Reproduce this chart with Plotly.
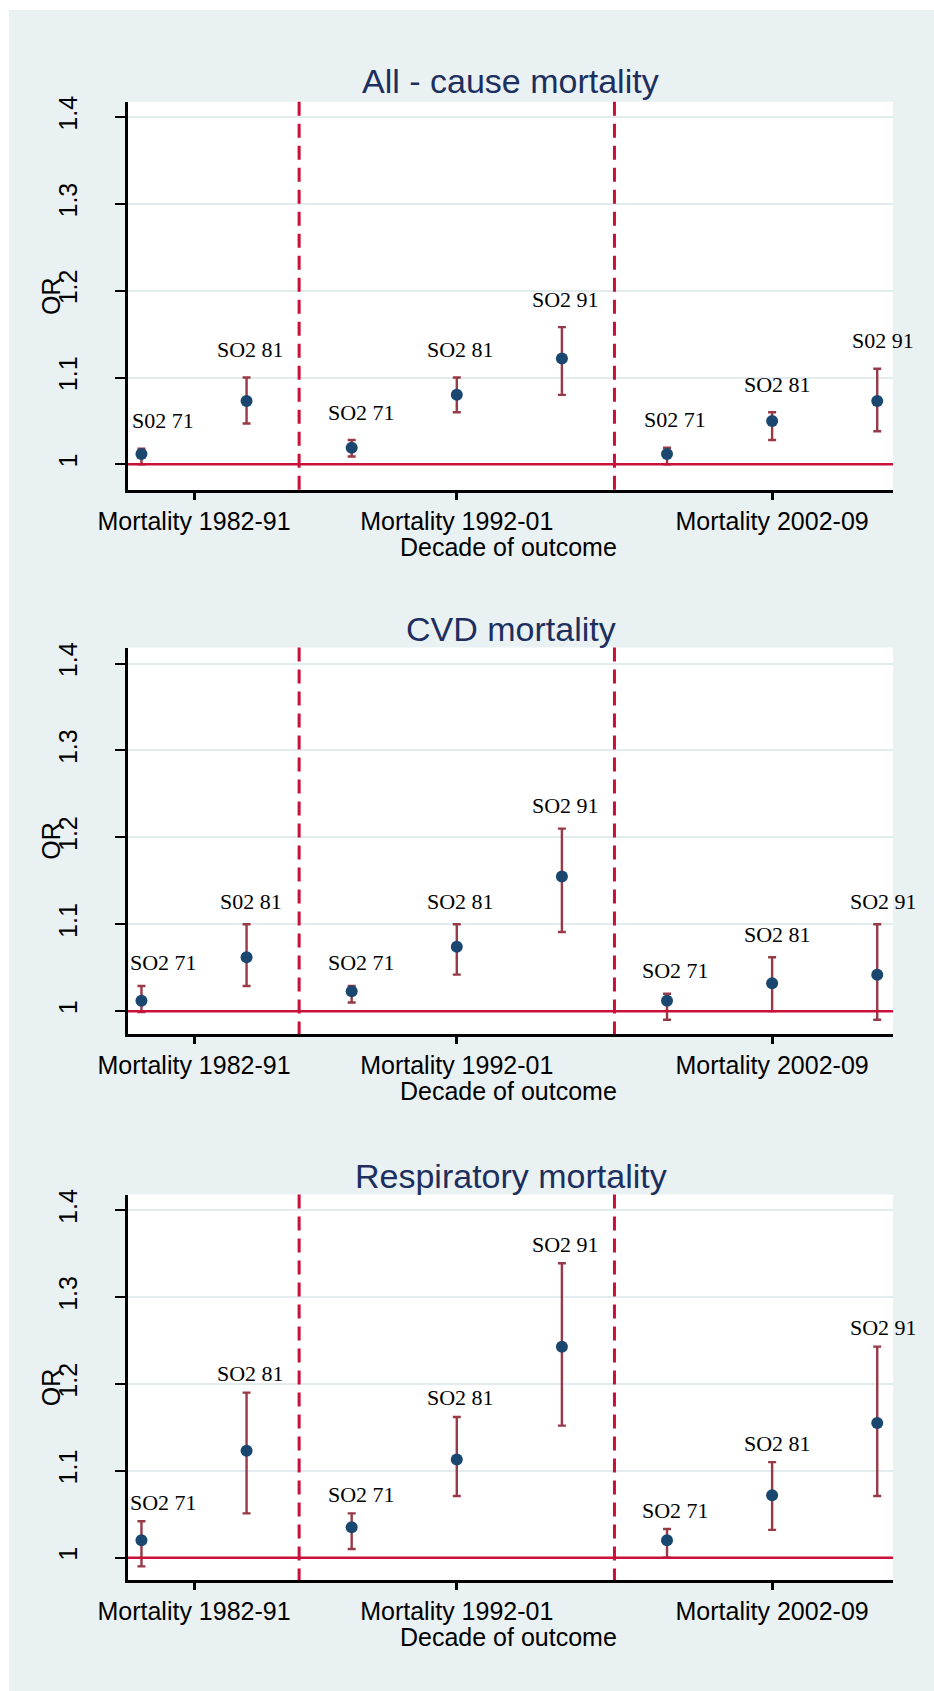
import plotly.graph_objects as go

# ---------------- data ----------------
positions = [1, 2, 3, 4, 5, 6, 7, 8]
decade_tickvals = [1.5, 4, 7]
decade_ticktext = ["Mortality 1982-91", "Mortality 1992-01", "Mortality 2002-09"]
or_tickvals = [1, 1.1, 1.2, 1.3, 1.4]
or_ticktext = ["1", "1.1", "1.2", "1.3", "1.4"]
separators = [2.5, 5.5]
reference_or = 1

panel_titles = ["All - cause mortality", "CVD mortality", "Respiratory mortality"]

allcause_labels = ["S02 71", "SO2 81", "SO2 71", "SO2 81", "SO2 91", "S02 71", "SO2 81", "S02 91"]
allcause_or = [1.012, 1.073, 1.019, 1.080, 1.122, 1.012, 1.050, 1.073]
allcause_lo = [1.000, 1.047, 1.009, 1.060, 1.080, 1.000, 1.028, 1.038]
allcause_hi = [1.018, 1.100, 1.028, 1.100, 1.158, 1.019, 1.060, 1.110]

cvd_labels = ["SO2 71", "S02 81", "SO2 71", "SO2 81", "SO2 91", "SO2 71", "SO2 81", "SO2 91"]
cvd_or = [1.012, 1.062, 1.023, 1.074, 1.155, 1.012, 1.032, 1.042]
cvd_lo = [0.999, 1.029, 1.010, 1.042, 1.091, 0.990, 1.000, 0.990]
cvd_hi = [1.029, 1.100, 1.029, 1.100, 1.210, 1.020, 1.062, 1.100]

resp_labels = ["SO2 71", "SO2 81", "SO2 71", "SO2 81", "SO2 91", "SO2 71", "SO2 81", "SO2 91"]
resp_or = [1.020, 1.123, 1.035, 1.113, 1.243, 1.020, 1.072, 1.155]
resp_lo = [0.990, 1.051, 1.010, 1.071, 1.152, 1.000, 1.032, 1.071]
resp_hi = [1.042, 1.190, 1.051, 1.162, 1.339, 1.033, 1.110, 1.243]

panels = [
    (allcause_labels, allcause_or, allcause_lo, allcause_hi),
    (cvd_labels, cvd_or, cvd_lo, cvd_hi),
    (resp_labels, resp_or, resp_lo, resp_hi),
]

# ---------------- styling / geometry ----------------
W, H = 934, 1691
BG = "#eaf1f3"
GRID = "#e2ebee"
NAVY = "#1a476f"
CAP = "#983a46"
RED = "#c8103a"
TITLE_C = "#1c2f5e"
SANS = "Liberation Sans, Arial, sans-serif"
SERIF = "Liberation Serif, Times New Roman, serif"

plot_left, plot_right = 128, 893
panel_tops = [101.8, 647.5, 1194.5]
panel_bottoms = [490.0, 1033.9, 1579.9]
y_ranges = [[0.9704, 1.4176], [0.9738, 1.4185], [0.9744, 1.4182]]
x_range = [0.872, 8.15]
title_y = [81.4, 629.3, 1175.6]
label_yshift = [28, 23, 19]
label_xshift = [22, 4, 10, 4, 4, 8, 5, 6]


def px_x(p):
    return p / W


def px_y(p):
    return 1 - p / H


fig = go.Figure()
annotations = []
shapes = [
    dict(type="rect", xref="paper", yref="paper", x0=0, x1=1, y0=px_y(10), y1=1,
         fillcolor="white", line=dict(width=0), layer="below"),
    dict(type="rect", xref="paper", yref="paper", x0=0, x1=px_x(9), y0=0, y1=1,
         fillcolor="white", line=dict(width=0), layer="below"),
]

layout_axes = {}
for i, (labels, est, lo, hi) in enumerate(panels):
    n = "" if i == 0 else str(i + 1)
    xa, ya = "x" + n, "y" + n

    dom_y = [px_y(panel_bottoms[i]), px_y(panel_tops[i])]
    layout_axes["xaxis" + n] = dict(
        domain=[px_x(plot_left), px_x(plot_right)], range=x_range, anchor=ya,
        automargin=False,
        tickmode="array", tickvals=decade_tickvals, ticktext=decade_ticktext,
        showgrid=False, zeroline=False, showline=True, linecolor="black", linewidth=2.5,
        ticks="outside", ticklen=7, tickwidth=2.5, tickcolor="black",
        tickfont=dict(family=SANS, size=25, color="black"),
    )
    layout_axes["yaxis" + n] = dict(
        domain=dom_y, range=y_ranges[i], anchor=xa,
        automargin=False,
        tickmode="array", tickvals=or_tickvals, ticktext=or_ticktext,
        showgrid=True, gridcolor=GRID, gridwidth=2, zeroline=False,
        showline=True, linecolor="black", linewidth=2.5,
        ticks="outside", ticklen=10, tickwidth=2, tickcolor="black",
        tickangle=-90, ticklabelstandoff=28,
        tickfont=dict(family=SANS, size=25, color="black"),
    )

    # reference line at OR = 1
    shapes.append(dict(type="line", xref=xa + " domain", yref=ya, x0=0, x1=1,
                       y0=reference_or, y1=reference_or,
                       line=dict(color=RED, width=2.5), layer="above"))
    # decade separators
    for s in separators:
        shapes.append(dict(type="line", xref=xa, yref=ya + " domain", x0=s, x1=s,
                           y0=1, y1=0, line=dict(color=RED, width=3, dash="14px,8px"),
                           layer="above"))

    fig.add_trace(go.Scatter(
        x=positions, y=est, mode="markers", xaxis=xa, yaxis=ya,
        marker=dict(color=NAVY, size=12, symbol="circle"),
        error_y=dict(type="data", symmetric=False,
                     array=[h - e for h, e in zip(hi, est)],
                     arrayminus=[e - l for e, l in zip(est, lo)],
                     color=CAP, thickness=2.4, width=4),
        showlegend=False, cliponaxis=False,
    ))

    # marker labels
    for j, (p, t, h) in enumerate(zip(positions, labels, hi)):
        annotations.append(dict(
            x=p, y=h, xref=xa, yref=ya, text=t, showarrow=False,
            xanchor="center", yanchor="middle",
            xshift=label_xshift[j], yshift=label_yshift[i],
            font=dict(family=SERIF, size=22, color="black"),
        ))

    # panel title
    annotations.append(dict(
        x=px_x((plot_left + plot_right) / 2), y=px_y(title_y[i]), xref="paper", yref="paper",
        text=panel_titles[i], showarrow=False, xanchor="center", yanchor="middle",
        font=dict(family=SANS, size=34, color=TITLE_C),
    ))
    # y axis title
    annotations.append(dict(
        x=px_x(51), y=px_y((panel_tops[i] + panel_bottoms[i]) / 2), xref="paper", yref="paper",
        text="OR", textangle=-90, showarrow=False, xanchor="center", yanchor="middle",
        font=dict(family=SANS, size=25, color="black"),
    ))
    # x axis title
    annotations.append(dict(
        x=px_x(508), y=px_y(panel_bottoms[i] + 57), xref="paper", yref="paper",
        text="Decade of outcome", showarrow=False, xanchor="center", yanchor="middle",
        font=dict(family=SANS, size=25, color="black"),
    ))

fig.update_layout(
    width=W, height=H,
    margin=dict(l=0, r=0, t=0, b=0, pad=0, autoexpand=False),
    paper_bgcolor=BG, plot_bgcolor="white",
    annotations=annotations, shapes=shapes,
    **layout_axes,
)

fig.write_html("out.html")
